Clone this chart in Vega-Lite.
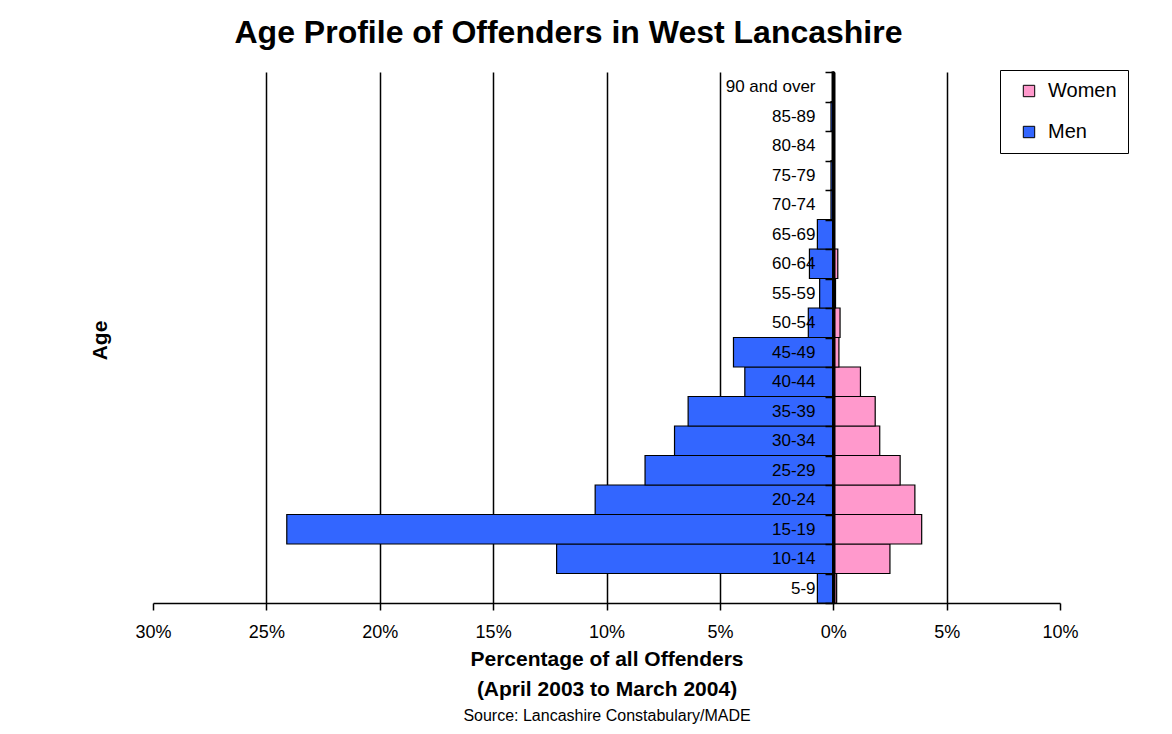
{
  "$schema": "https://vega.github.io/schema/vega-lite/v6.json",
  "width": 907,
  "height": 531,
  "autosize": {"type": "none"},
  "padding": {"left": 153, "top": 72, "right": 112, "bottom": 131},
  "background": "white",
  "title": {"text": "Age Profile of Offenders in West Lancashire", "fontSize": 32, "font": "Liberation Sans", "fontWeight": "bold", "color": "black", "anchor": "middle", "dx": -38, "offset": 13},
  "config": {"view": {"stroke": null}, "font": "Liberation Sans"},
  "data": {"values": [
    {"age": "5-9", "sex": "Men", "pct": -0.7},
    {"age": "10-14", "sex": "Men", "pct": -12.2},
    {"age": "15-19", "sex": "Men", "pct": -24.1},
    {"age": "20-24", "sex": "Men", "pct": -10.5},
    {"age": "25-29", "sex": "Men", "pct": -8.3},
    {"age": "30-34", "sex": "Men", "pct": -7.0},
    {"age": "35-39", "sex": "Men", "pct": -6.4},
    {"age": "40-44", "sex": "Men", "pct": -3.9},
    {"age": "45-49", "sex": "Men", "pct": -4.4},
    {"age": "50-54", "sex": "Men", "pct": -1.1},
    {"age": "55-59", "sex": "Men", "pct": -0.6},
    {"age": "60-64", "sex": "Men", "pct": -1.05},
    {"age": "65-69", "sex": "Men", "pct": -0.7},
    {"age": "70-74", "sex": "Men", "pct": -0.1},
    {"age": "75-79", "sex": "Men", "pct": -0.1},
    {"age": "80-84", "sex": "Men", "pct": -0.05},
    {"age": "85-89", "sex": "Men", "pct": -0.1},
    {"age": "90 and over", "sex": "Men", "pct": -0.05},
    {"age": "5-9", "sex": "Women", "pct": 0.15},
    {"age": "10-14", "sex": "Women", "pct": 2.5},
    {"age": "15-19", "sex": "Women", "pct": 3.9},
    {"age": "20-24", "sex": "Women", "pct": 3.6},
    {"age": "25-29", "sex": "Women", "pct": 2.95},
    {"age": "30-34", "sex": "Women", "pct": 2.05},
    {"age": "35-39", "sex": "Women", "pct": 1.85},
    {"age": "40-44", "sex": "Women", "pct": 1.2},
    {"age": "45-49", "sex": "Women", "pct": 0.25},
    {"age": "50-54", "sex": "Women", "pct": 0.3},
    {"age": "55-59", "sex": "Women", "pct": 0.1},
    {"age": "60-64", "sex": "Women", "pct": 0.2},
    {"age": "65-69", "sex": "Women", "pct": 0.05},
    {"age": "70-74", "sex": "Women", "pct": 0.05},
    {"age": "75-79", "sex": "Women", "pct": 0.05},
    {"age": "80-84", "sex": "Women", "pct": 0.03},
    {"age": "85-89", "sex": "Women", "pct": 0.03},
    {"age": "90 and over", "sex": "Women", "pct": 0.03}
  ]},
  "layer": [
    {
      "mark": {"type": "bar", "stroke": "black", "strokeWidth": 1.2},
      "encoding": {
        "x": {
          "field": "pct", "type": "quantitative",
          "scale": {"domain": [-30, 10], "nice": false, "zero": false},
          "axis": {
            "orient": "bottom",
            "values": [-30, -25, -20, -15, -10, -5, 0, 5, 10],
            "labelExpr": "abs(datum.value) + '%'",
            "labelFlush": false,
            "grid": true, "gridColor": "black", "gridWidth": 1.5,
            "gridOpacity": {"condition": {"test": "datum.value == -30 || datum.value == 10", "value": 0}, "value": 1},
            "domainColor": "black", "domainWidth": 1.5,
            "tickColor": "black", "tickSize": 7, "tickWidth": 1.5,
            "labelFontSize": 18, "labelColor": "black", "labelPadding": 13,
            "title": ["Percentage of all Offenders", "(April 2003 to March 2004)"],
            "titleFontSize": 21, "titleFontWeight": "bold", "titleColor": "black",
            "titlePadding": 7, "titleLineHeight": 30
          }
        },
        "y": {
          "field": "age", "type": "nominal",
          "sort": ["90 and over", "85-89", "80-84", "75-79", "70-74", "65-69", "60-64", "55-59", "50-54", "45-49", "40-44", "35-39", "30-34", "25-29", "20-24", "15-19", "10-14", "5-9"],
          "scale": {"paddingInner": 0, "paddingOuter": 0},
          "axis": {
            "offset": -681, "zindex": 1,
            "domainColor": "black", "domainWidth": 2,
            "tickBand": "extent", "tickSize": 9, "tickColor": "black", "tickWidth": 1.5,
            "labelFontSize": 17, "labelColor": "black", "labelPadding": 10,
            "title": "Age", "titleX": -734, "titleY": 268, "titleAngle": -90,
            "titleFontSize": 21, "titleFontWeight": "bold", "titleColor": "black",
            "titleAlign": "center", "titleBaseline": "middle"
          }
        },
        "color": {
          "field": "sex", "type": "nominal",
          "scale": {"domain": ["Women", "Men"], "range": ["#FF99CC", "#3366FF"]},
          "legend": {
            "title": null, "orient": "none", "legendX": 847, "legendY": -2,
            "strokeColor": "black", "padding": 11,
            "symbolType": "square", "symbolSize": 130, "symbolStrokeColor": "black", "symbolStrokeWidth": 1,
            "symbolOffset": 8,
            "labelFontSize": 20, "labelColor": "black", "rowPadding": 21, "labelOffset": 9
          }
        }
      }
    },
    {
      "mark": {"type": "rule", "color": "black", "strokeWidth": 2},
      "encoding": {
        "x": {
          "datum": 0, "type": "quantitative",
          "axis": {
            "orient": "bottom", "offset": 104,
            "title": "Source: Lancashire Constabulary/MADE",
            "labels": false, "ticks": false, "domain": false, "grid": false,
            "titleFontSize": 16, "titleFontWeight": "normal", "titleColor": "black", "titlePadding": 0
          }
        }
      }
    }
  ],
  "resolve": {"axis": {"x": "independent"}}
}
